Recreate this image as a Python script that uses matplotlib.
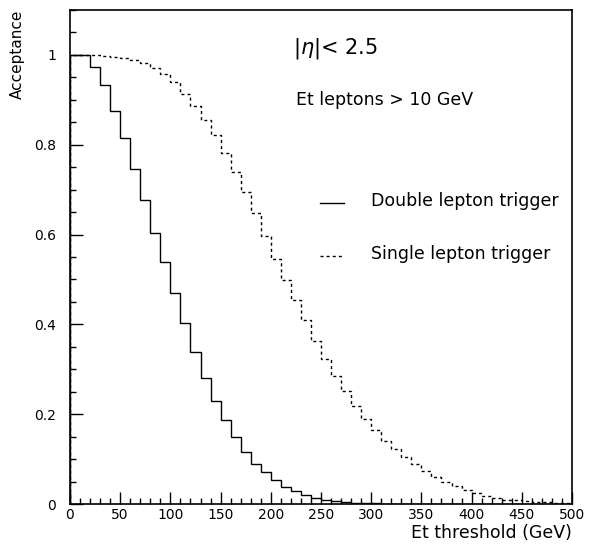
"""Trigger acceptance vs Et threshold (PAW-style step histograms)."""

import matplotlib
matplotlib.use("Agg")
import matplotlib.pyplot as plt
import numpy as np

# ---- data ---------------------------------------------------------------------
bin_edges = np.arange(0, 510, 10)

double_lepton = [
    1.000, 1.000, 0.974, 0.932, 0.875, 0.816, 0.745, 0.678, 0.604, 0.539,
    0.469, 0.403, 0.339, 0.280, 0.230, 0.186, 0.150, 0.116, 0.089, 0.071,
    0.054, 0.039, 0.030, 0.021, 0.013, 0.009, 0.006, 0.004, 0.003, 0.002,
    0.0015, 0.001, 0.001, 0.0008, 0.0006, 0.0004, 0.0003, 0.0002, 0.0001, 0.0,
    0.0, 0.0, 0.0, 0.0, 0.0, 0.0, 0.0, 0.0, 0.0, 0.0,
]

single_lepton = [
    1.000, 1.000, 0.999, 0.998, 0.996, 0.993, 0.988, 0.981, 0.971, 0.958,
    0.939, 0.914, 0.886, 0.856, 0.821, 0.781, 0.739, 0.694, 0.647, 0.597,
    0.545, 0.499, 0.454, 0.409, 0.364, 0.324, 0.286, 0.251, 0.219, 0.190,
    0.165, 0.141, 0.123, 0.104, 0.089, 0.074, 0.061, 0.050, 0.040, 0.031,
    0.024, 0.018, 0.013, 0.010, 0.008, 0.006, 0.005, 0.004, 0.003, 0.002,
]

x_major = np.arange(0, 501, 50)
y_major = [0, 0.2, 0.4, 0.6, 0.8, 1.0]
y_labels = ["0", "0.2", "0.4", "0.6", "0.8", "1"]

plt.rcParams["font.family"] = ["DejaVu Sans"]
plt.rcParams["mathtext.fontset"] = "dejavusans"

fig = plt.figure(figsize=(5.90, 5.44), dpi=100)
ax = fig.add_axes([0.1186, 0.0735, 0.8509, 0.9081])

ax.stairs(double_lepton, bin_edges, color="black", linewidth=1.0)
ax.stairs(single_lepton, bin_edges, color="black", linewidth=1.0,
          linestyle=(0, (2.2, 2.2)))

ax.set_xlim(0, 500)
ax.set_ylim(0, 1.1)

ax.set_xticks(x_major)
ax.set_xticks(np.arange(0, 501, 10), minor=True)
ax.set_yticks(y_major)
ax.set_yticklabels(y_labels)
ax.set_yticks(np.arange(0, 1.101, 0.05), minor=True)
ax.tick_params(which="both", direction="in", top=False, right=False,
               labelsize=10, width=1.0)
ax.tick_params(which="major", length=9)
ax.tick_params(which="minor", length=4.5)
ax.tick_params(axis="y", pad=10)
ax.tick_params(axis="x", pad=3)
for sp in ax.spines.values():
    sp.set_linewidth(1.2)

ax.text(1.0, -0.041, "Et threshold (GeV)", transform=ax.transAxes,
        ha="right", va="top", fontsize=12.5)
fig.text(0.030, 0.982, "Acceptance", rotation=90, ha="center", va="top",
         fontsize=11)

ax.text(222, 1.014, r"$|\eta|$< 2.5", fontsize=15, va="center")
ax.text(225, 0.899, "Et leptons > 10 GeV", fontsize=12.5, va="center")

# legend drawn by hand, PAW style
ax.plot([249, 273], [0.67, 0.67], color="black", linewidth=1.0)
ax.text(300, 0.675, "Double lepton trigger", fontsize=12.5, va="center")
ax.plot([249, 273], [0.552, 0.552], color="black", linewidth=1.0,
        linestyle=(0, (2.2, 2.2)))
ax.text(300, 0.557, "Single lepton trigger", fontsize=12.5, va="center")

fig.savefig("out.png", dpi=100)
